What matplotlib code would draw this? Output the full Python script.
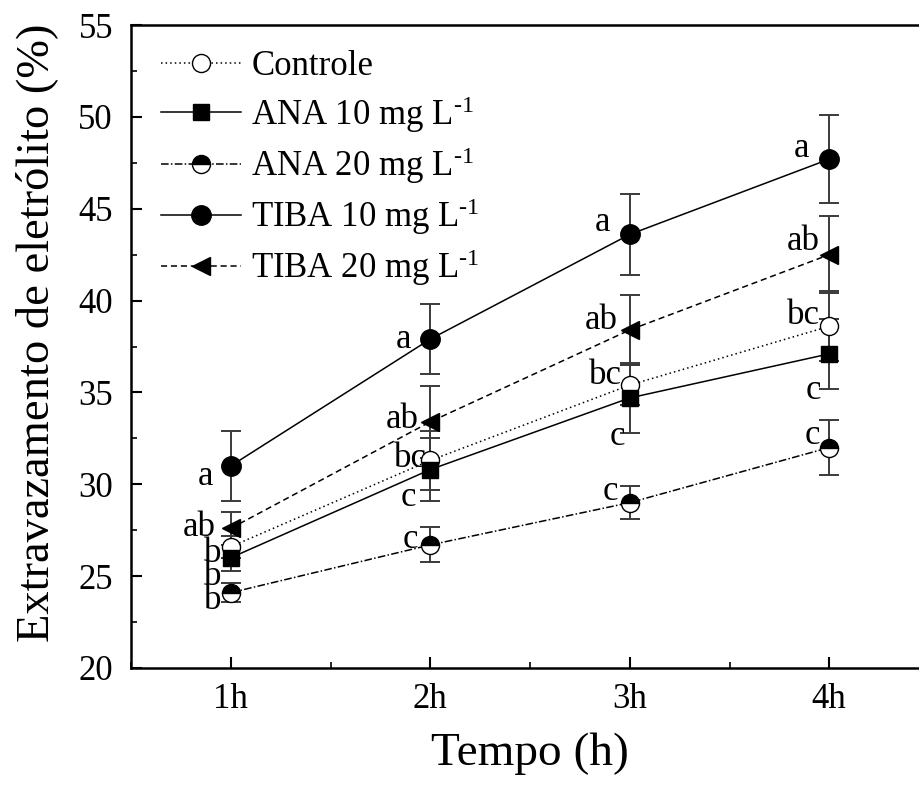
import matplotlib
matplotlib.use("Agg")
import matplotlib.pyplot as plt
from matplotlib.ticker import MultipleLocator

plt.rcParams['font.family'] = ['Liberation Serif', 'DejaVu Serif']
plt.rcParams['mathtext.fontset'] = 'custom'
plt.rcParams['mathtext.rm'] = 'Liberation Serif'
plt.rcParams['mathtext.it'] = 'Liberation Serif:italic'

times = ["1h", "2h", "3h", "4h"]
x = [1, 2, 3, 4]

controle = [26.6, 31.3, 35.4, 38.6]
ana10 = [26.0, 30.8, 34.7, 37.1]
ana20 = [24.1, 26.7, 29.0, 32.0]
tiba10 = [31.0, 37.9, 43.6, 47.7]
tiba20 = [27.6, 33.4, 38.4, 42.5]

controle_err = [0.6, 1.6, 1.1, 1.9]
ana10_err = [0.7, 1.7, 1.9, 1.9]
ana20_err = [0.5, 0.95, 0.9, 1.5]
tiba10_err = [1.9, 1.9, 2.2, 2.4]
tiba20_err = [0.9, 1.95, 1.9, 2.1]

controle_let = ["b", "bc", "bc", "bc"]
ana10_let = ["b", "c", "c", "c"]
ana20_let = ["b", "c", "c", "c"]
tiba10_let = ["a", "a", "a", "a"]
tiba20_let = ["ab", "ab", "ab", "ab"]

labels = ["Controle", r"ANA 10 mg L$^{\text{-1}}$", r"ANA 20 mg L$^{\text{-1}}$",
          r"TIBA 10 mg L$^{\text{-1}}$", r"TIBA 20 mg L$^{\text{-1}}$"]

fig = plt.figure(figsize=(9.19, 7.90), dpi=100)
ax = fig.add_axes([131/919, (790-668)/790, (929-131)/919, (668-25)/790])

styles = [
    dict(ls=(0, (1, 2)), marker='o', mfc='white', mec='black', ms=13),
    dict(ls='-', marker='s', mfc='black', mec='black', ms=11),
    dict(ls=(0, (5, 1.5, 1, 1.5)), marker='o', mfc='black', mec='black', ms=13,
         fillstyle='top', markerfacecoloralt='white'),
    dict(ls='-', marker='o', mfc='black', mec='black', ms=14),
    dict(ls=(0, (4, 2.5)), marker='<', mfc='black', mec='black', ms=13),
]
series = [controle, ana10, ana20, tiba10, tiba20]
errs = [controle_err, ana10_err, ana20_err, tiba10_err, tiba20_err]
lets = [controle_let, ana10_let, ana20_let, tiba10_let, tiba20_let]

# label offsets in pixels (dx right, dy down) relative to marker
offs_px = [
    [(-18, 7), (-20, -2), (-24, -10), (-26, -11)],
    [(-18, 19), (-22, 28), (-12, 39), (-16, 37)],
    [(-18, 8), (-20, -5), (-19, -11), (-17, -12)],
    [(-25, 11), (-27, 0), (-27, -12), (-28, -11)],
    [(-31, -1), (-28, -2), (-29, -9), (-26, -13)],
]

handles = []
for s, e, st, lab, L, offs in zip(series, errs, styles, labels, lets, offs_px):
    ax.errorbar(x, s, yerr=e, fmt='none', ecolor='#3a3a3a', elinewidth=1.4,
                capsize=7, capthick=1.4, zorder=2)
    h, = ax.plot(x, s, color='black', lw=1.1, label=lab, zorder=3, **st)
    handles.append(h)
    for xi, yi, t, (dx, dy) in zip(x, s, L, offs):
        ax.annotate(t, (xi, yi), xytext=(dx*0.72, -dy*0.72), textcoords='offset points',
                    ha='center', va='center', fontsize=25)

ax.set_xlim(0.5, 4.5)
ax.set_ylim(20, 55)
ax.set_xticks(x)
ax.set_xticklabels(times)
ax.xaxis.set_minor_locator(MultipleLocator(0.5))
ax.yaxis.set_major_locator(MultipleLocator(5))
ax.yaxis.set_minor_locator(MultipleLocator(2.5))
ax.tick_params(axis='both', which='major', direction='in', length=8, width=1.5,
               labelsize=25)
ax.tick_params(axis='y', which='major', pad=13)
ax.tick_params(axis='x', which='major', pad=11)
ax.tick_params(axis='both', which='minor', direction='in', length=4, width=1.2)
ax.tick_params(axis='x', which='both', top=False)
ax.tick_params(axis='y', which='both', right=False)
for sp in ax.spines.values():
    sp.set_linewidth(1.8)

ax.set_xlabel("Tempo (h)", fontsize=34, labelpad=12)
ax.set_ylabel("Extravazamento de eletrólito (%)", fontsize=33.5)
ax.yaxis.set_label_coords(-0.092, 0.521)

leg = ax.legend(handles=handles, loc='upper left', bbox_to_anchor=(0.02, 0.982),
                frameon=False, fontsize=25, handlelength=2.3, handletextpad=0.3,
                labelspacing=0.3, borderaxespad=0.0)

fig.savefig("out.png", dpi=100)
